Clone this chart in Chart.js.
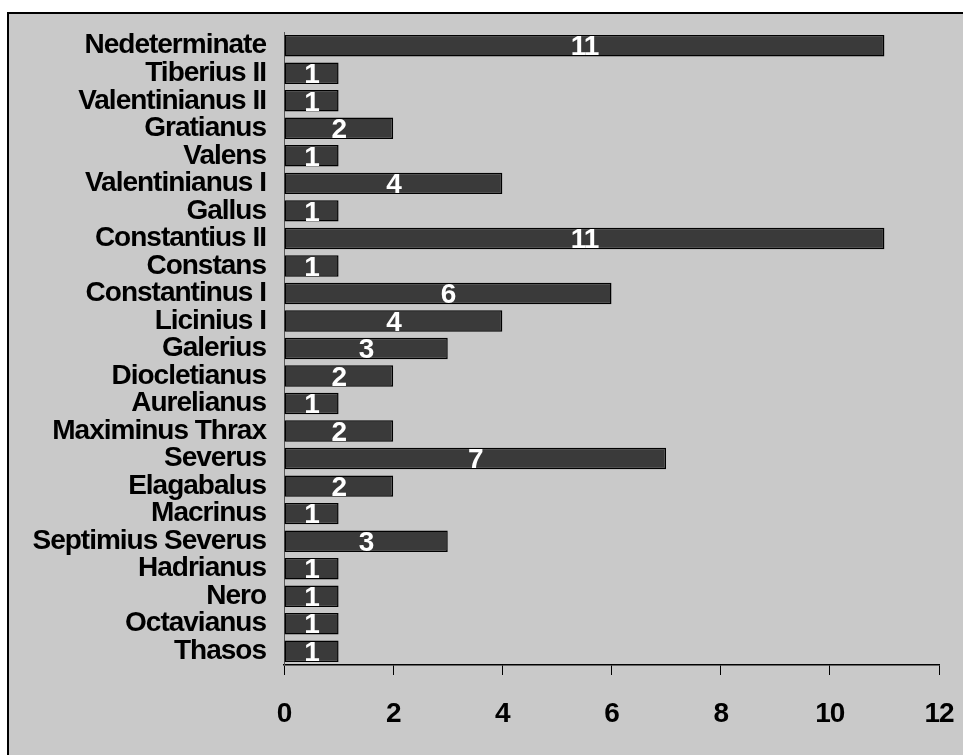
<!DOCTYPE html>
<html>
<head>
<meta charset="utf-8">
<script src="https://cdn.jsdelivr.net/npm/chart.js@4.4.1/dist/chart.umd.min.js"></script>
<style>
  html, body { margin: 0; padding: 0; background: #fff; overflow: hidden; }
  #frame {
    position: absolute; left: 7px; top: 12px; width: 970px; height: 760px;
    background: #c9c9c9; border-top: 2px solid #000; border-left: 2px solid #000;
    box-sizing: border-box;
  }
  #wrap { position: absolute; left: 0; top: 0; width: 963px; height: 755px; }
</style>
</head>
<body>
<div id="frame"></div>
<div id="wrap"><canvas id="chart" width="963" height="755"></canvas></div>
<script>
// ── Data (top to bottom, as in the picture) ────────────────────────────
const rulers = [
    'Nedeterminate', 'Tiberius II', 'Valentinianus II', 'Gratianus', 'Valens',
    'Valentinianus I', 'Gallus', 'Constantius II', 'Constans', 'Constantinus I',
    'Licinius I', 'Galerius', 'Diocletianus', 'Aurelianus', 'Maximinus Thrax',
    'Severus', 'Elagabalus', 'Macrinus', 'Septimius Severus', 'Hadrianus',
    'Nero', 'Octavianus', 'Thasos'
];
const coinCounts = [11, 1, 1, 2, 1, 4, 1, 11, 1, 6, 4, 3, 2, 1, 2, 7, 2, 1, 3, 1, 1, 1, 1];
const xTicks = [0, 2, 4, 6, 8, 10, 12];

const FONT = '"Liberation Sans", Arial, sans-serif';

// tight tracking like the original export
const tightText = {
    id: 'tightText',
    beforeDraw(chart) { chart.ctx.letterSpacing = '-1px'; }
};

// white count written in the middle of each bar
const barValueLabels = {
    id: 'barValueLabels',
    afterDatasetsDraw(chart) {
        const ctx = chart.ctx;
        const meta = chart.getDatasetMeta(0);
        ctx.save();
        ctx.fillStyle = '#fff';
        ctx.font = 'bold 28px ' + FONT;
        ctx.textAlign = 'center';
        ctx.textBaseline = 'middle';
        meta.data.forEach((bar, i) => {
            const cx = (bar.x + bar.base) / 2;
            ctx.fillText(String(coinCounts[i]), cx, bar.y + 2);
        });
        ctx.restore();
    }
};

new Chart(document.getElementById('chart'), {
    type: 'bar',
    data: {
        labels: rulers,
        datasets: [{
            data: coinCounts,
            backgroundColor: '#3a3a3a',
            borderColor: '#000',
            borderWidth: 1.5,
            borderSkipped: false,
            barPercentage: 0.78,
            categoryPercentage: 1
        }]
    },
    options: {
        indexAxis: 'y',
        responsive: false,
        animation: false,
        layout: { padding: { top: 32, right: 24, left: 0, bottom: 0 } },
        plugins: { legend: { display: false }, tooltip: { enabled: false } },
        scales: {
            x: {
                min: 0, max: 12,
                afterBuildTicks: s => { s.ticks = xTicks.map(v => ({ value: v })); },
                afterFit: s => { s.height = 90; s.paddingLeft = 0; s.paddingRight = 0; },
                border: { display: true, color: '#000', width: 1.5 },
                grid: { drawOnChartArea: false, drawTicks: true, tickLength: 10, color: '#000', lineWidth: 1 },
                ticks: { color: '#000', padding: 22, maxRotation: 0, font: { family: FONT, size: 28, weight: 'bold' } }
            },
            y: {
                afterFit: s => { s.width = 284; s.paddingTop = 0; s.paddingBottom = 0; },
                border: { display: true, color: '#555', width: 1 },
                grid: { display: false },
                ticks: { color: '#000', padding: 10, autoSkip: false, font: { family: FONT, size: 28, weight: 'bold' } }
            }
        }
    },
    plugins: [tightText, barValueLabels]
});
</script>
</body>
</html>
